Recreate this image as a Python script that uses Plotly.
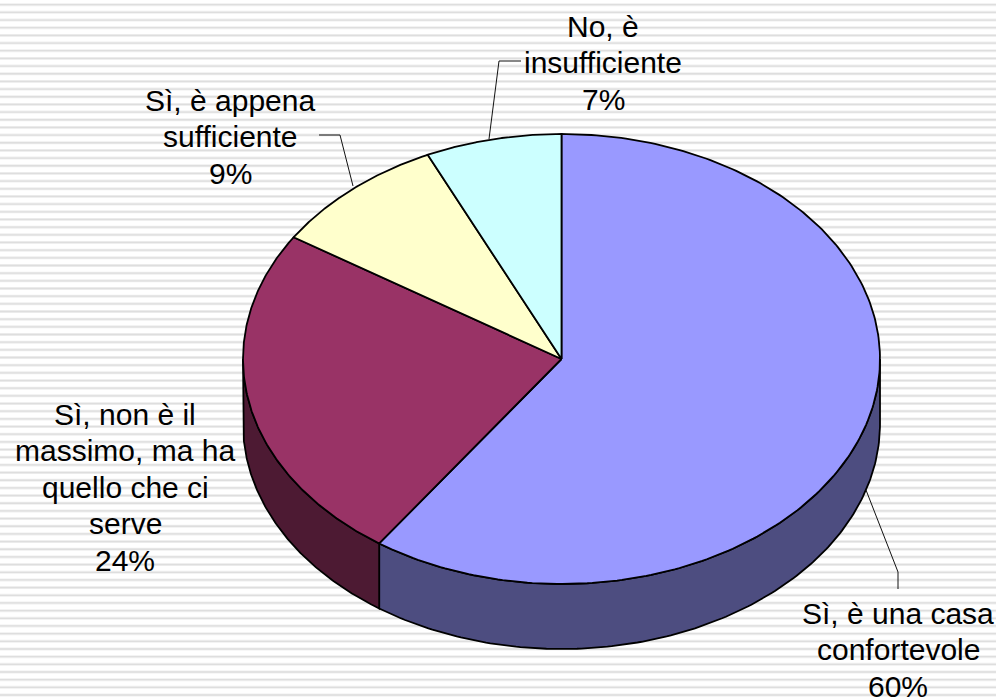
import numpy as np
import plotly.graph_objects as go

categories = ["Sì, è una casa confortevole", "Sì, non è il massimo, ma ha quello che ci serve",
              "Sì, è appena sufficiente", "No, è insufficiente"]
values = [59.7, 24.4, 9.0, 6.9]
top_colors = ["#9999FF", "#993366", "#FFFFCC", "#CCFFFF"]
side_colors = ["#4D4D80", "#4D1A33", "#808066", "#668080"]
label_lines = [
    ["Sì, è una casa", "confortevole", "60%"],
    ["Sì, non è il", "massimo, ma ha", "quello che ci", "serve", "24%"],
    ["Sì, è appena", "sufficiente", "9%"],
    ["No, è", "insufficiente", "7%"],
]
label_x = [898, 125, 230, 603]
label_first_y = [613, 414, 100, 26]
line_step = 36.6
leaders = [
    ([866, 898, 898], [490, 572, 589]),
    None,
    ([319, 340, 353], [135, 135, 186]),
    ([521, 499, 489], [61, 61, 139]),
]

W, H = 996, 699
CX, CY, RX, RY, DEPTH = 561.5, 359, 318.5, 225, 65

fig = go.Figure()

# striped backdrop
ys = np.arange(4.7, H + 8, 7.67)
for width, col in [(3, "#efefef"), (1.3, "#dedede")]:
    sx, sy = [], []
    for y in ys:
        sx += [0, W, None]
        sy += [y, y, None]
    fig.add_trace(go.Scatter(x=sx, y=sy, mode="lines", line=dict(color=col, width=width), hoverinfo="skip"))

def ell(t, dy=0):
    return CX + RX * np.sin(t), CY + dy - RY * np.cos(t)

fractions = np.cumsum([0] + values) / sum(values)
angles = fractions * 2 * np.pi

# visible side walls (lower half of the disc)
for i in range(len(values)):
    a, b = max(angles[i], np.pi / 2), min(angles[i + 1], 3 * np.pi / 2)
    if a >= b:
        continue
    t = np.linspace(a, b, 160)
    x1, y1 = ell(t)
    x2, y2 = ell(t[::-1], DEPTH)
    fig.add_trace(go.Scatter(x=np.r_[x1, x2, x1[0]], y=np.r_[y1, y2, y1[0]], mode="lines", fill="toself",
                             fillcolor=side_colors[i], line=dict(color="black", width=1.8), hoverinfo="skip"))

# top faces
for i in range(len(values)):
    t = np.linspace(angles[i], angles[i + 1], 240)
    x, y = ell(t)
    fig.add_trace(go.Scatter(x=np.r_[CX, x, CX], y=np.r_[CY, y, CY], mode="lines", fill="toself",
                             fillcolor=top_colors[i], line=dict(color="black", width=1.8),
                             name=categories[i], hoverinfo="skip"))

# leader lines
for lead in leaders:
    if lead:
        fig.add_trace(go.Scatter(x=lead[0], y=lead[1], mode="lines", line=dict(color="#111111", width=1), hoverinfo="skip"))

# labels
for lines, lx, ly in zip(label_lines, label_x, label_first_y):
    for k, s in enumerate(lines):
        fig.add_annotation(x=lx, y=ly + k * line_step, text=s, showarrow=False, xanchor="center", yanchor="middle",
                           font=dict(family="Liberation Sans, Arial, sans-serif", size=30, color="black"))

fig.update_layout(width=W, height=H, margin=dict(l=0, r=0, t=0, b=0), showlegend=False,
                  paper_bgcolor="white", plot_bgcolor="rgba(0,0,0,0)",
                  xaxis=dict(range=[0, W], visible=False, fixedrange=True),
                  yaxis=dict(range=[H, 0], visible=False, fixedrange=True))
fig.write_html("out.html", config={"displayModeBar": False},
               post_script="document.body.style.margin='0';document.documentElement.style.overflow='hidden';")
